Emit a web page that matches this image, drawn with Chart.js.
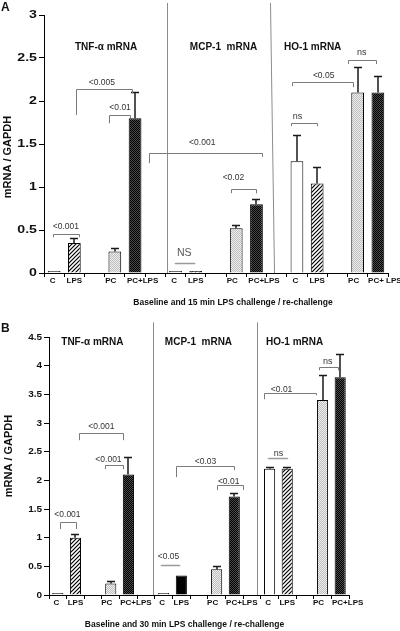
<!DOCTYPE html>
<html>
<head>
<meta charset="utf-8">
<script src="https://cdn.jsdelivr.net/npm/chart.js@4/dist/chart.umd.min.js"></script>
<style>
  html, body { margin: 0; padding: 0; background: #fff; }
  canvas { position: absolute; left: 0; display: block; }
  #chartA { top: 0; }
  #chartB { top: 315px; }
</style>
</head>
<body>
<canvas id="chartA" width="400" height="315"></canvas>
<canvas id="chartB" width="400" height="316"></canvas>
<script>
// ===============================
// DATA
// ===============================

// categories (one slot per bar, empty slots are gaps)
const xLabelsA = ['C', 'LPS', '', 'PC', 'PC+LPS', '', 'C', 'LPS', '', 'PC', 'PC+LPS', '', 'C', 'LPS', '', 'PC', 'PC+ LPS'];
const xLabelsB = ['C', 'LPS', '', 'PC', 'PC+LPS', '', 'C', 'LPS', '', 'PC', 'PC+LPS', '', 'C', 'LPS', '', 'PC', 'PC+LPS'];
const geneTitles = ['TNF-\u03b1 mRNA', 'MCP-1  mRNA', 'HO-1 mRNA'];

// tick labels
const yTicksA = [0, 0.5, 1, 1.5, 2, 2.5, 3];
const yTicksB = [0, 0.5, 1, 1.5, 2, 2.5, 3, 3.5, 4, 4.5];

// panel A : baseline and 15 min  (C, LPS, PC, PC+LPS)
const tnfA = [0.015, 0.35, 0.25, 1.80];
const tnfErrA = [0, 0.06, 0.04, 0.30];
const mcpA = [0.015, 0.015, 0.52, 0.80];
const mcpErrA = [0, 0, 0.04, 0.065];
const hoA = [1.30, 1.04, 2.10, 2.10];
const hoErrA = [0.30, 0.19, 0.29, 0.19];

// panel B : baseline and 30 min
const tnfB = [0.02, 1.00, 0.20, 2.10];
const tnfErrB = [0, 0.07, 0.05, 0.30];
const mcpB = [0.02, 0.34, 0.45, 1.72];
const mcpErrB = [0, 0, 0.05, 0.06];
const hoB = [2.20, 2.20, 3.40, 3.80];
const hoErrB = [0.03, 0.03, 0.44, 0.41];

// significance brackets : [from slot, to slot, y, left leg end, right leg end, text, text slot, text y]
const bracketsA = [
    [-0.06, 1.22, 0.459, 0.416, 0.416, '<0.001', 0.58, 0.535],
    [1.08, 3.85, 2.135, 1.836, 2.09, '<0.005', 2.36, 2.208],
    [2.71, 3.75, 1.836, 1.74, 1.80, '<0.01', 3.26, 1.917],
    [5.98, 6.93, 0.116, 0.116, 0.116, 'NS', 6.43, 0.233],
    [4.70, 10.25, 1.39, 1.277, 1.35, '<0.001', 7.32, 1.52],
    [8.75, 10.0, 0.971, 0.928, 0.925, '<0.02', 8.86, 1.114],
    [11.69, 12.97, 1.746, 1.708, 1.708, 'ns', 12.03, 1.816],
    [11.78, 14.76, 2.224, 2.173, 2.16, '<0.05', 13.32, 2.29],
    [14.51, 15.9, 2.476, 2.43, 2.43, 'ns', 15.2, 2.558]
];
const bracketsB = [
    [0.147, 1.055, 1.277, 1.15, 1.15, '<0.001', 0.545, 1.394],
    [1.225, 3.72, 2.817, 2.70, 2.70, '<0.001', 2.47, 2.93],
    [2.70, 3.72, 2.265, 2.195, 2.195, '<0.001', 2.87, 2.352],
    [5.82, 6.89, 0.523, 0.523, 0.523, '<0.05', 6.27, 0.667],
    [6.67, 10.0, 2.242, 2.056, 2.178, '<0.03', 8.37, 2.322],
    [9.0, 10.47, 1.916, 1.83, 1.83, '<0.01', 9.68, 1.974],
    [11.89, 12.97, 2.387, 2.387, 2.387, 'ns', 12.51, 2.474],
    [11.66, 14.61, 3.524, 3.415, 3.484, '<0.01', 12.68, 3.589],
    [14.78, 15.86, 3.977, 3.92, 3.92, 'ns', 15.29, 4.08]
];

// group separators : [slot at top, slot at bottom]
const separatorsA = [[5.59, 5.59], [10.69, 10.89]];
const separatorsB = [[5.37, 5.37], [11.26, 11.26]];

// ===============================
// STYLES
// ===============================

function makePattern(size, draw) {
    const c = document.createElement('canvas');
    c.width = size; c.height = size;
    draw(c.getContext('2d'));
    return document.createElement('canvas').getContext('2d').createPattern(c, 'repeat');
}

const fills = {
    white: '#ffffff',
    black: '#000000',
    hatch: makePattern(4, g => {
        g.fillStyle = '#fff'; g.fillRect(0, 0, 4, 4);
        g.strokeStyle = '#000'; g.lineWidth = 1.2;
        g.beginPath();
        g.moveTo(0, 4); g.lineTo(4, 0);
        g.moveTo(-1, 1); g.lineTo(1, -1);
        g.moveTo(3, 5); g.lineTo(5, 3);
        g.stroke();
    }),
    light: makePattern(2, g => {
        g.fillStyle = '#f0f0f0'; g.fillRect(0, 0, 2, 2);
        g.fillStyle = '#bcbcbc'; g.fillRect(0, 0, 1, 1); g.fillRect(1, 1, 1, 1);
    }),
    dark: makePattern(2, g => {
        g.fillStyle = '#4a4a4a'; g.fillRect(0, 0, 2, 2);
        g.fillStyle = '#000'; g.fillRect(0, 0, 1, 1); g.fillRect(1, 1, 1, 1);
    })
};
const fillKindsA = [['white', 'hatch', 'light', 'dark'], ['white', 'hatch', 'light', 'dark'], ['white', 'hatch', 'light', 'dark']];
const fillKindsB = [['white', 'hatch', 'light', 'dark'], ['white', 'black', 'light', 'dark'], ['white', 'hatch', 'light', 'dark']];

const labelShift = { 'C': -1.5, 'LPS': 0, 'PC': -4, 'PC+LPS': 7.5, 'PC+ LPS': 7 };
const FONT = '"Liberation Sans", Arial, sans-serif';

// place the four conditions of each gene into the 17 slots
function toSlots(groups) {
    const out = [];
    groups.forEach((g, gi) => {
        out.push(g[0], g[1], null, g[2], g[3]);
        if (gi < groups.length - 1) out.push(null);
    });
    return out;
}

// ===============================
// DRAWING OF A PANEL
// ===============================

function panelPlugin(p) {
    return {
        id: 'panel' + p.letter,
        afterDatasetsDraw(chart) {
            const { ctx, scales: { y } } = chart;
            const meta = chart.getDatasetMeta(0);
            ctx.save();
            ctx.strokeStyle = '#1a1a1a';
            ctx.lineWidth = 1.5;
            p.errors.forEach((e, i) => {
                const v = p.values[i];
                if (v === null || !e) return;
                const bx = Math.round(meta.data[i].x);
                const y0 = y.getPixelForValue(v);
                const y1 = Math.round(y.getPixelForValue(v + e)) + 0.5;
                ctx.beginPath();
                ctx.moveTo(bx, y0); ctx.lineTo(bx, y1);
                ctx.moveTo(bx - 4, y1); ctx.lineTo(bx + 4, y1);
                ctx.stroke();
            });
            ctx.restore();
        },
        afterDraw(chart) {
            const { ctx, scales: { x, y } } = chart;
            const X = v => x.getPixelForValue(v);
            const Y = v => y.getPixelForValue(v);
            ctx.save();

            // separators
            ctx.strokeStyle = '#8c8c8c';
            ctx.lineWidth = 1;
            p.separators.forEach(([xt, xb]) => {
                ctx.beginPath();
                ctx.moveTo(Math.round(X(xt)) + 0.5, Y(p.sepTop));
                ctx.lineTo(Math.round(X(xb)) + 0.5, Y(0));
                ctx.stroke();
            });

            // brackets and p values
            p.brackets.forEach(([x1, x2, yv, l1, l2, text, tx, ty]) => {
                const plain = l1 === yv && l2 === yv;
                const X1 = Math.round(X(x1)) + 0.5, X2 = Math.round(X(x2)) + 0.5;
                const YY = Math.round(Y(yv)) + 0.5;
                ctx.strokeStyle = plain ? '#9a9a9a' : '#7a7a7a';
                ctx.lineWidth = plain ? 1.5 : 1;
                ctx.beginPath();
                ctx.moveTo(X1, Y(l1)); ctx.lineTo(X1, YY); ctx.lineTo(X2, YY); ctx.lineTo(X2, Y(l2));
                ctx.stroke();
                const size = text === 'NS' ? 10.5 : (text === 'ns' ? 9 : 8.5);
                ctx.font = size + 'px ' + FONT;
                ctx.fillStyle = text === 'NS' ? '#555' : '#333';
                ctx.textAlign = 'center';
                ctx.textBaseline = 'middle';
                ctx.fillText(text, X(tx), Y(ty));
            });

            // gene titles
            ctx.font = 'bold 10px ' + FONT;
            ctx.fillStyle = '#111';
            ctx.textAlign = 'center';
            ctx.textBaseline = 'middle';
            geneTitles.forEach((t, i) => ctx.fillText(t, X(p.titleSlots[i]), Y(p.titleY)));

            // x tick labels
            ctx.font = 'bold 8px ' + FONT;
            chart.data.labels.forEach((lab, i) => {
                if (!lab) return;
                ctx.fillText(lab, X(i) + (labelShift[lab] || 0), x.top + 8);
            });

            // y tick labels (panel A uses wider digits)
            ctx.font = 'bold ' + p.yFont + 'px ' + FONT;
            ctx.textAlign = 'right';
            y.ticks.forEach(t => {
                ctx.save();
                ctx.translate(y.right - 7, Y(t.value));
                ctx.scale(p.yStretch, 1);
                ctx.fillText(String(t.value), 0, 0);
                ctx.restore();
            });

            // axis titles
            ctx.textAlign = 'center';
            ctx.font = 'bold 8.5px ' + FONT;
            ctx.fillText(p.xTitle, p.xTitlePos[0], p.xTitlePos[1]);
            ctx.save();
            ctx.translate(p.yTitlePos[0], p.yTitlePos[1]);
            ctx.rotate(-Math.PI / 2);
            ctx.font = 'bold 11px ' + FONT;
            ctx.fillText('mRNA / GAPDH', 0, 0);
            ctx.restore();

            // panel letter
            ctx.font = 'bold 12px ' + FONT;
            ctx.textAlign = 'left';
            ctx.fillText(p.letter, 1, p.letterY);
            ctx.restore();
        }
    };
}

function buildPanel(canvasId, p) {
    const ctx = document.getElementById(canvasId).getContext('2d');
    return new Chart(ctx, {
        type: 'bar',
        data: {
            labels: p.labels,
            datasets: [{
                data: p.values,
                backgroundColor: p.kinds.map(k => k ? fills[k] : '#fff'),
                borderColor: '#000',
                borderWidth: 1,
                minBarLength: 2,
                barPercentage: 0.63,
                categoryPercentage: 1
            }]
        },
        options: {
            responsive: false,
            animation: false,
            events: [],
            layout: { padding: { top: p.padTop, right: p.padRight, left: 0, bottom: 0 } },
            plugins: { legend: { display: false }, tooltip: { enabled: false } },
            scales: {
                x: {
                    type: 'category',
                    offset: true,
                    grid: { offset: true, drawOnChartArea: false, tickLength: 4, color: '#000' },
                    border: { color: '#000', width: 1 },
                    ticks: { display: false, autoSkip: false },
                    afterFit: s => { s.height = p.xHeight; }
                },
                y: {
                    min: 0,
                    max: p.yTicks[p.yTicks.length - 1],
                    afterBuildTicks: s => { s.ticks = p.yTicks.map(v => ({ value: v })); },
                    grid: { drawOnChartArea: false, tickLength: 5, color: '#000' },
                    border: { color: '#000', width: 1 },
                    ticks: { display: false },
                    afterFit: s => { s.width = p.yWidth; }
                }
            }
        },
        plugins: [panelPlugin(p)]
    });
}

// ===============================
// PANELS
// ===============================

buildPanel('chartA', {
    letter: 'A', letterY: 8,
    labels: xLabelsA,
    values: toSlots([tnfA, mcpA, hoA]),
    errors: toSlots([tnfErrA, mcpErrA, hoErrA]),
    kinds: toSlots(fillKindsA),
    yTicks: yTicksA,
    brackets: bracketsA,
    separators: separatorsA, sepTop: 3.14,
    titleSlots: [2.57, 8.37, 12.78], titleY: 2.63,
    xTitle: 'Baseline and 15 min LPS challenge / re-challenge', xTitlePos: [233, 303],
    yTitlePos: [8, 157],
    yFont: 10.5, yStretch: 1.35,
    padTop: 15, padRight: 12, xHeight: 42, yWidth: 44
});

buildPanel('chartB', {
    letter: 'B', letterY: 14,
    labels: xLabelsB,
    values: toSlots([tnfB, mcpB, hoB]),
    errors: toSlots([tnfErrB, mcpErrB, hoErrB]),
    kinds: toSlots(fillKindsB),
    yTicks: yTicksB,
    brackets: bracketsB,
    separators: separatorsB, sepTop: 4.756,
    titleSlots: [1.96, 7.97, 13.42], titleY: 4.41,
    xTitle: 'Baseline and 30 min LPS challenge / re-challenge', xTitlePos: [184.5, 310],
    yTitlePos: [9, 141],
    yFont: 9.5, yStretch: 1.05,
    padTop: 22, padRight: 51, xHeight: 36, yWidth: 49
});
</script>
</body>
</html>
